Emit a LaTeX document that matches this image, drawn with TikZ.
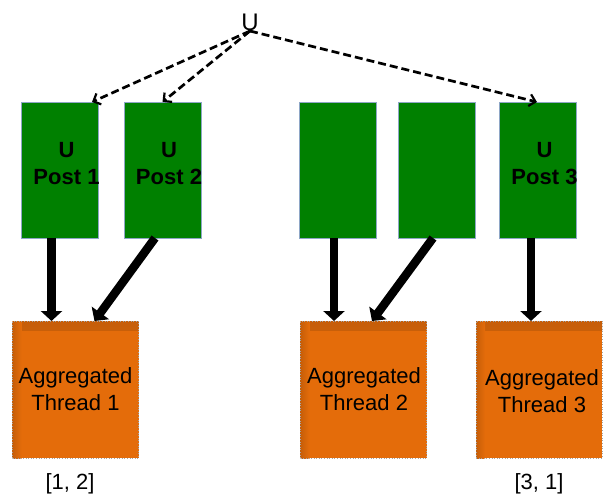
\documentclass[tikz,border=0pt]{standalone}
\usepackage{fontspec}
\setmainfont{Liberation Sans}
\usetikzlibrary{arrows.meta}
\definecolor{postgreen}{HTML}{008000}
\definecolor{postedge}{HTML}{8EA6C6}
\definecolor{threadorange}{HTML}{E46C0A}
\begin{document}
\begin{tikzpicture}[x=1pt,y=-1pt,
  post/.style={fill=postgreen, draw=postedge, line width=0.8pt,
    minimum width=77pt, minimum height=136pt, inner sep=0pt, outer sep=0pt},
  thread/.style={fill=threadorange, draw=gray!70, dotted, line width=0.6pt,
    minimum width=126pt, minimum height=137pt, inner sep=0pt, outer sep=0pt,
    path picture={
      \shade[top color=threadorange!87!black, bottom color=threadorange]
        (path picture bounding box.north west) rectangle
        ([yshift=-9pt]path picture bounding box.north east);
      \shade[left color=threadorange!87!black, right color=threadorange]
        (path picture bounding box.north west) rectangle
        ([xshift=9pt]path picture bounding box.south west);
    }},
  posttext/.style={font=\fontsize{22}{27}\selectfont\bfseries, align=center, inner sep=0pt},
  threadtext/.style={font=\fontsize{22}{27}\selectfont, align=center, inner sep=0pt},
  plain/.style={font=\fontsize{22}{27}\selectfont, inner sep=0pt, anchor=base},
  mention/.style={draw=black, line width=2.7pt, dash pattern=on 8pt off 4pt,
    -{Straight Barb[length=6pt,width=12pt,line width=2.2pt]}},
  feed/.style={draw=black, line width=8.5pt, -{Triangle[length=10pt,width=21pt]}},
]
\useasboundingbox (0,0) rectangle (614,495);

% user
\node[plain, font=\fontsize{24}{28}\selectfont] (u) at (250,31) {U};

% posts
\node[post] (g1) at (60,170) {};
\node[post] (g2) at (162.5,170) {};
\node[post] (g3) at (338,170) {};
\node[post] (g4) at (437,170) {};
\node[post] (g5) at (538,170) {};
\node[posttext] (p1) at (66.5,164) {U\\Post 1};
\node[posttext] (p2) at (169,164) {U\\Post 2};
\node[posttext] (p5) at (544.5,164) {U\\Post 3};

% aggregated threads
\node[thread] (o1) at (75.5,389.5) {};
\node[thread] (o2) at (363.5,389.5) {};
\node[thread] (o3) at (539,389.5) {};
\node[threadtext] (a1) at (75.5,389) {Aggregated\\Thread 1};
\node[threadtext] (a2) at (364,389) {Aggregated\\Thread 2};
\node[threadtext] (a3) at (542,391) {Aggregated\\Thread 3};

% thread labels
\node[plain] (l1) at (70,489) {[1, 2]};
\node[plain] (l3) at (539,489) {[3, 1]};

% mentions of the user
\draw[mention] (u.base) -- ([xshift=-6.5pt]g1.north east);
\draw[mention] (u.base) -- (g2.north);
\draw[mention] (u.base) -- ([xshift=-1pt]g5.north);

% posts feeding threads
\draw[feed] ([xshift=-8.5pt]g1.south) -- ([xshift=-24pt]o1.north);
\draw[feed] ([xshift=-7.5pt]g2.south) -- ([xshift=19pt]o1.north);
\draw[feed] ([xshift=-4pt]g3.south) -- ([xshift=-29.5pt]o2.north);
\draw[feed] ([xshift=-4pt]g4.south) -- ([xshift=8.5pt]o2.north);
\draw[feed] ([xshift=-7pt]g5.south) -- ([xshift=-8pt]o3.north);
\end{tikzpicture}
\end{document}
